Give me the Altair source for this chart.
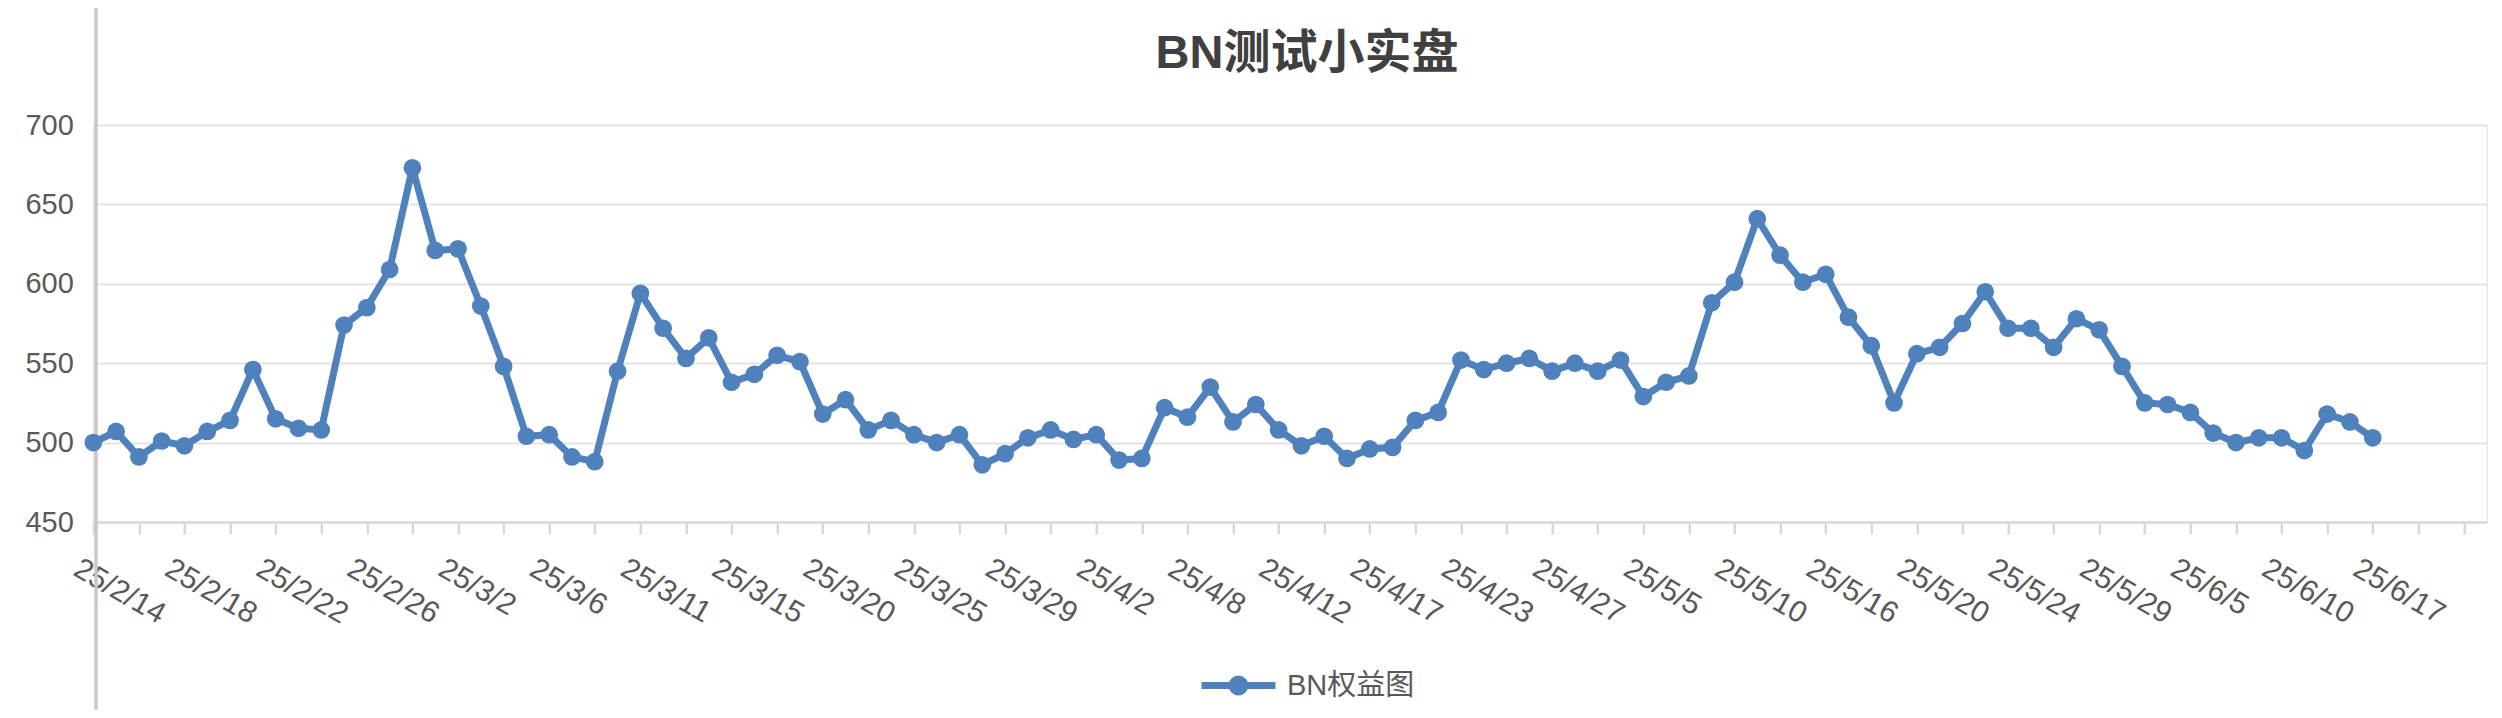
import json
import altair as alt
import pandas as pd

# ---------------- data ----------------
dates = [
    "25/2/14", "25/2/15", "25/2/16", "25/2/17",
    "25/2/18", "25/2/19", "25/2/20", "25/2/21",
    "25/2/22", "25/2/23", "25/2/24", "25/2/25",
    "25/2/26", "25/2/27", "25/2/28", "25/3/1",
    "25/3/2", "25/3/3", "25/3/4", "25/3/5",
    "25/3/6", "25/3/7", "25/3/8", "25/3/10",
    "25/3/11", "25/3/12", "25/3/13", "25/3/14",
    "25/3/15", "25/3/16", "25/3/17", "25/3/18",
    "25/3/20", "25/3/21", "25/3/22", "25/3/23",
    "25/3/25", "25/3/26", "25/3/27", "25/3/28",
    "25/3/29", "25/3/30", "25/3/31", "25/4/1",
    "25/4/2", "25/4/3", "25/4/4", "25/4/7",
    "25/4/8", "25/4/9", "25/4/10", "25/4/11",
    "25/4/12", "25/4/13", "25/4/14", "25/4/16",
    "25/4/17", "25/4/18", "25/4/20", "25/4/21",
    "25/4/23", "25/4/24", "25/4/25", "25/4/26",
    "25/4/27", "25/4/28", "25/4/29", "25/4/30",
    "25/5/5", "25/5/6", "25/5/7", "25/5/8",
    "25/5/10", "25/5/12", "25/5/13", "25/5/14",
    "25/5/16", "25/5/17", "25/5/18", "25/5/19",
    "25/5/20", "25/5/21", "25/5/22", "25/5/23",
    "25/5/24", "25/5/26", "25/5/27", "25/5/28",
    "25/5/29", "25/5/30", "25/6/3", "25/6/4",
    "25/6/5", "25/6/6", "25/6/8", "25/6/9",
    "25/6/10", "25/6/11", "25/6/12", "25/6/13",
    "25/6/17",
]

equity = [
    500, 507, 491, 501, 498, 507, 514, 546, 515, 509,
    508, 574, 585, 609, 673, 621, 622, 586, 548, 504,
    505, 491, 488, 545, 594, 572, 553, 566, 538, 543,
    555, 551, 518, 527, 508, 514, 505, 500, 505, 486,
    493, 503, 508, 502, 505, 489, 490, 522, 516, 535,
    513, 524, 508, 498, 504, 490, 496, 497, 514, 519,
    552, 546, 550, 553, 545, 550, 545, 552, 529, 538,
    542, 588, 601, 641, 618, 601, 606, 579, 561, 525,
    556, 560, 575, 595, 572, 572, 560, 578, 571, 548,
    525, 524, 519, 506, 500, 503, 503, 495, 518, 513,
    503,
]

# empty categories at the right end of the category axis
pad_dates = ["25/6/18", "25/6/19", "25/6/20", "25/6/23", "25/6/24"]

shown_labels = [
    "25/2/14", "25/2/18", "25/2/22", "25/2/26", "25/3/2", "25/3/6",
    "25/3/11", "25/3/15", "25/3/20", "25/3/25", "25/3/29", "25/4/2",
    "25/4/8", "25/4/12", "25/4/17", "25/4/23", "25/4/27", "25/5/5",
    "25/5/10", "25/5/16", "25/5/20", "25/5/24", "25/5/29", "25/6/5",
    "25/6/10", "25/6/17",
]

y_ticks = [450, 500, 550, 600, 650, 700]
series_name = "BN权益图"
title_text = "BN测试小实盘"

# ---------------- chart ----------------
df = pd.DataFrame({"date": dates, "value": equity, "series": series_name})
domain = dates + pad_dates
tick_vals = domain[::2]

FONT = "Liberation Sans, Noto Sans CJK SC, sans-serif"
BLUE = "#4f81bd"
TXT = "#595959"

label_expr = (
    "indexof(" + json.dumps(shown_labels, ensure_ascii=False)
    + ", datum.value) >= 0 ? datum.value : ''"
)

x_enc = alt.X(
    "date:N",
    sort=None,
    scale=alt.Scale(domain=domain, type="point", padding=0),
    axis=alt.Axis(
        title=None,
        values=tick_vals,
        labelExpr=label_expr,
        labelAngle=30,
        labelAlign="left",
        labelBaseline="top",
        labelPadding=19,
        labelOffset=-10,
        labelFontSize=30,
        labelColor=TXT,
        labelFont=FONT,
        labelBound=False,
        labelOverlap=False,
        tickSize=12,
        tickColor="#d9d9d9",
        tickWidth=2.5,
        domainColor="#d9d9d9",
        domainWidth=2.5,
        grid=False,
    ),
)

y_enc = alt.Y(
    "value:Q",
    scale=alt.Scale(domain=[450, 700], nice=False, zero=False),
    axis=alt.Axis(
        title=None,
        values=y_ticks,
        labelFontSize=29,
        labelColor=TXT,
        labelFont=FONT,
        labelPadding=20,
        ticks=False,
        domain=False,
        grid=True,
        gridColor="#e3e3e3",
        gridWidth=2,
    ),
)

legend_symbol = (
    "M-1,0L1,0"
    "M-0.176,0A0.176,0.176,0,1,0,0.176,0A0.176,0.176,0,1,0,-0.176,0"
    "M-0.081,0A0.081,0.081,0,1,0,0.081,0A0.081,0.081,0,1,0,-0.081,0"
)

line = alt.Chart(df).mark_line(strokeWidth=7, color=BLUE).encode(
    x=x_enc,
    y=y_enc,
    color=alt.Color(
        "series:N",
        scale=alt.Scale(range=[BLUE]),
        legend=alt.Legend(
            title=None,
            orient="none",
            legendX=1104.7,
            legendY=520,
            symbolType=legend_symbol,
            symbolSize=5476,
            symbolStrokeWidth=7,
            symbolStrokeColor=BLUE,
            symbolFillColor=BLUE,
            labelFontSize=29,
            labelColor=TXT,
            labelFont=FONT,
            labelOffset=8,
            padding=0,
        ),
    ),
)

points = alt.Chart(df).mark_point(filled=True, size=314, opacity=1, color=BLUE).encode(
    x=x_enc,
    y=y_enc,
)

vline = alt.Chart(pd.DataFrame({"k": [0]})).mark_rule(
    color="#c8c8c8", strokeWidth=3.5
).encode(x=alt.value(2.7), y=alt.value(-117), y2=alt.value(585))

title = alt.Chart(pd.DataFrame({"t": [title_text]})).mark_text(
    font=FONT,
    fontSize=47,
    fontWeight="bold",
    color="#404040",
    align="center",
    baseline="alphabetic",
).encode(text="t:N", x=alt.value(1213.7), y=alt.value(-56.7))

chart = (
    alt.layer(vline, line, points, title)
    .properties(
        width=2393.4,
        height=397,
        autosize=alt.AutoSizeParams(type="none"),
        padding={"left": 85.3, "top": 117, "right": 7.3, "bottom": 188},
    )
    .configure_view(stroke=None)
    .configure(background="white")
)

chart.save("out.html", embed_options={"renderer": "svg", "actions": False})
